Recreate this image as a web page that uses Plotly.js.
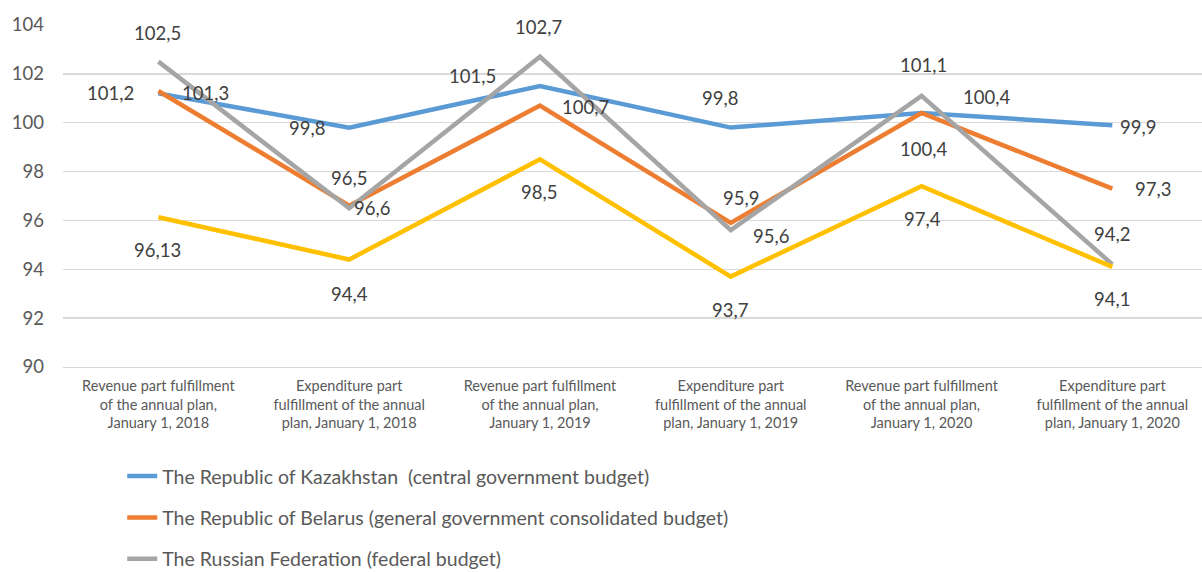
<!DOCTYPE html>
<html>
<head>
<meta charset="utf-8">
<script src="https://cdn.plot.ly/plotly-3.0.1.min.js"></script>
<style>html,body{margin:0;padding:0;background:#fff;}#chart{width:1202px;height:572px;}</style>
</head>
<body>
<div id="chart"></div>
<script>
// ---- data ----
const categories = [
  "Revenue part fulfillment<br>of the annual plan,<br>January 1, 2018",
  "Expenditure part<br>fulfillment of the annual<br>plan, January 1, 2018",
  "Revenue part fulfillment<br>of the annual plan,<br>January 1, 2019",
  "Expenditure part<br>fulfillment of the annual<br>plan, January 1, 2019",
  "Revenue part fulfillment<br>of the annual plan,<br>January 1, 2020",
  "Expenditure part<br>fulfillment of the annual<br>plan, January 1, 2020"
];
const seriesNames = [
  "The Republic of Kazakhstan  (central government budget)",
  "The Republic of Belarus (general government consolidated budget)",
  "The Russian Federation (federal budget)",
  ""
];
const kazakhstan = [101.2, 99.8, 101.5, 99.8, 100.4, 99.9];
const belarus    = [101.3, 96.6, 100.7, 95.9, 100.4, 97.3];
const russia     = [102.5, 96.5, 102.7, 95.6, 101.1, 94.2];
const fourth     = [96.13, 94.4, 98.5, 93.7, 97.4, 94.1];
const yTicks = [90, 92, 94, 96, 98, 100, 102, 104];

// ---- styles ----
const colors = ["#5B9BD5", "#ED7D31", "#A5A5A5", "#FFC000"];
const labelShift = [
  [[-48,0],[-42,0],[-67,10],[-11,30],[65,16],[26,-2]],
  [[47,-2],[23,-2],[46,-1],[10,25],[2,-36],[41,0]],
  [[-1,29],[0,30],[-1,30],[40,-6],[2,31],[0,30]],
  [[-1,-33],[0,-34],[-1,-33],[-1,-33],[1,-33],[0,-32]]
];
const allSeries = [kazakhstan, belarus, russia, fourth];
const FONT = "Lato, Carlito, 'Open Sans', sans-serif";

const traces = allSeries.map((vals, s) => ({
  type: "scatter",
  mode: "lines",
  x: categories,
  y: vals,
  name: seriesNames[s],
  showlegend: s < 3,
  legendgroup: "g" + s,
  line: {color: colors[s], width: 4.5},
  hoverinfo: "y+name"
}));

const annotations = [];
allSeries.forEach((vals, s) => {
  vals.forEach((v, i) => {
    annotations.push({
      x: i, y: v, xref: "x", yref: "y",
      text: String(v).replace(".", ","),
      showarrow: false,
      xshift: labelShift[s][i][0],
      yshift: labelShift[s][i][1],
      font: {family: FONT, size: 18.5, color: "#404040"}
    });
  });
});

const layout = {
  width: 1202, height: 572,
  margin: {l: 63, r: 0, t: 25, b: 205, autoexpand: false},
  paper_bgcolor: "#ffffff", plot_bgcolor: "#ffffff",
  font: {family: FONT, color: "#595959"},
  separators: ", ",
  xaxis: {
    type: "category",
    range: [-0.5, 5.47],
    showgrid: false,
    showline: true, linecolor: "#D9D9D9", linewidth: 1.3,
    ticks: "",
    ticklabelstandoff: 5,
    tickfont: {family: FONT, size: 14.5, color: "#595959"},
    fixedrange: true
  },
  yaxis: {
    range: [90, 104],
    tickvals: yTicks,
    ticktext: yTicks.map(String),
    showgrid: true, gridcolor: "#D9D9D9", gridwidth: 1.3,
    zeroline: false, showline: false,
    ticks: "",
    ticklabelstandoff: 18,
    tickfont: {family: FONT, size: 18.5, color: "#595959"},
    fixedrange: true
  },
  showlegend: true,
  legend: {
    orientation: "v",
    x: 0.052, xanchor: "left",
    y: -0.263, yanchor: "top",
    font: {family: FONT, size: 19.5, color: "#595959"},
    tracegroupgap: 13,
    bgcolor: "rgba(0,0,0,0)"
  },
  annotations: annotations
};

Plotly.newPlot("chart", traces, layout, {displayModeBar: false, staticPlot: true});
</script>
</body>
</html>
